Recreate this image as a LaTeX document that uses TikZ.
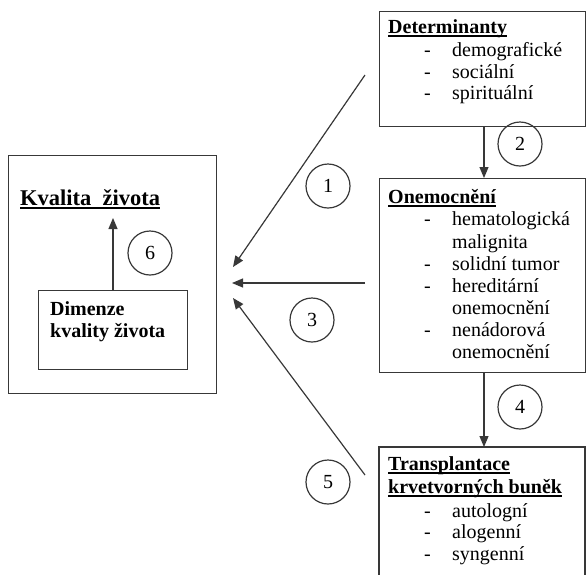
\documentclass[tikz,border=0pt]{standalone}
\usepackage{fontspec}
\setmainfont{Liberation Serif}
\usetikzlibrary{arrows.meta}
\newcommand\udl[1]{\draw[line width=1.1pt] ([yshift=-3pt]#1.base west) -- ([yshift=-3pt]#1.base east);}
\begin{document}
\begin{tikzpicture}[x=1pt,y=-1pt,
  ln/.style={draw=black!78, line width=1.2pt},
  arr/.style={ln, -{Triangle[length=11pt,width=9pt]}},
  box/.style={ln, rectangle, anchor=north west, inner sep=0},
  num/.style={ln, circle, minimum size=44pt, inner sep=0, font=\fontsize{20}{22}\selectfont},
  txt/.style={anchor=base west, inner sep=0, font=\fontsize{20}{22}\selectfont},
  ttl/.style={anchor=base west, inner sep=0, font=\fontsize{20}{22}\selectfont\bfseries},
]
\useasboundingbox (0,0) rectangle (587,574);
% boxes
\node[box, minimum width=208pt, minimum height=238pt] (outer) at (8,155) {};
\node[box, minimum width=149pt, minimum height=79pt] (inner) at (38,290) {};
\node[box, minimum width=206pt, minimum height=115pt] (det) at (379,11) {};
\node[box, minimum width=206pt, minimum height=194pt] (one) at (379,178) {};
\coordinate (trTL) at (379,447);
\coordinate (trTR) at (585,447);
\coordinate (trBL) at (379,580);
\coordinate (trBR) at (585,580);
\draw[ln] (trBL) -- (trTL) -- (trTR) -- (trBR);
% left texts
\node[anchor=base west, inner sep=0, font=\fontsize{22.5}{25}\selectfont\bfseries] (kv) at (20,205) {Kvalita\ \ života};
\udl{kv}
\node[ttl] (dim1) at (50,315) {Dimenze};
\node[ttl] (dim2) at (50,337) {kvality života};
% Determinanty
\node[ttl] (detT) at (388,33) {Determinanty};
\udl{detT}
\node[txt] (dd1) at (424,56) {-};
\node[txt] (dt1) at (452,56) {demografické};
\node[txt] (dd2) at (424,78) {-};
\node[txt] (dt2) at (452,78) {sociální};
\node[txt] (dd3) at (424,99) {-};
\node[txt] (dt3) at (452,99) {spirituální};
% Onemocneni
\node[ttl] (oneT) at (388,203) {Onemocnění};
\udl{oneT}
\node[txt] (od1) at (424,225) {-};
\node[txt] (ot1) at (452,225) {hematologická};
\node[txt] (ot2) at (452,248) {malignita};
\node[txt] (od3) at (424,270) {-};
\node[txt] (ot3) at (452,270) {solidní tumor};
\node[txt] (od4) at (424,292) {-};
\node[txt] (ot4) at (452,292) {hereditární};
\node[txt] (ot5) at (452,314) {onemocnění};
\node[txt] (od6) at (424,336) {-};
\node[txt] (ot6) at (452,336) {nenádorová};
\node[txt] (ot7) at (452,358) {onemocnění};
% Transplantace
\node[ttl] (trT1) at (388,470) {Transplantace};
\udl{trT1}
\node[ttl] (trT2) at (388,493) {krvetvorných buněk};
\udl{trT2}
\node[txt] (td1) at (424,517) {-};
\node[txt] (tt1) at (452,517) {autologní};
\node[txt] (td2) at (424,538) {-};
\node[txt] (tt2) at (452,538) {alogenní};
\node[txt] (td3) at (424,560) {-};
\node[txt] (tt3) at (452,560) {syngenní};
% numbers
\node[num] (n1) at (328,186) {1};
\node[num] (n2) at (520,144) {2};
\node[num] (n3) at (312,320) {3};
\node[num] (n4) at (520,407) {4};
\node[num] (n5) at (328,482) {5};
\node[num] (n6) at (150,253) {6};
% connectors
\coordinate (vx) at (484,0);
\coordinate (kx) at (113,0);
\coordinate (k6) at (113,218);
\draw[arr] (det.south -| vx) -- (one.north -| vx);
\draw[arr] (one.south -| vx) -- (trTL -| vx);
\draw[arr] (inner.north -| kx) -- (k6);
\coordinate (s1) at (365,75);
\coordinate (e1) at (233,267);
\coordinate (s3) at (365,283);
\coordinate (e3) at (232,283);
\coordinate (s5) at (365,475);
\coordinate (e5) at (233,298);
\draw[arr] (s1) -- (e1);
\draw[arr] (s3) -- (e3);
\draw[arr] (s5) -- (e5);
\end{tikzpicture}
\end{document}
